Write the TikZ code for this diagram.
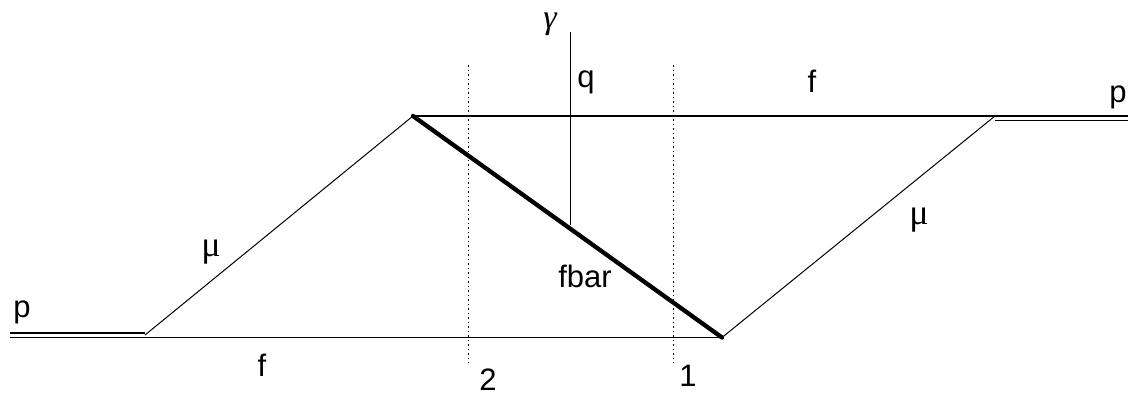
\documentclass[tikz,border=0pt]{standalone}
\usepackage{fontspec}
\setmainfont{Liberation Sans}
\newfontfamily\grk{Liberation Serif}
\begin{document}
\begin{tikzpicture}[x=1pt,y=-1pt,
  ln/.style={line width=1.3pt},
  thin/.style={line width=1pt},
  thickln/.style={line width=4.3pt},
  dot/.style={line width=1pt, dash pattern=on 1.5pt off 3pt},
  lbl/.style={inner sep=0pt, font=\fontsize{31}{31}\selectfont},
  glbl/.style={inner sep=0pt, font=\grk\fontsize{36}{36}\selectfont}]
\useasboundingbox (0,0) rectangle (1128,397);
\coordinate (pl) at (10,337.5);
\coordinate (pltop) at (10,333);
\coordinate (a) at (145,335);
\coordinate (atop) at (145,333);
\coordinate (b) at (413,116);
\coordinate (c) at (722,337.5);
\coordinate (d) at (995,116);
\coordinate (dlow) at (995,120.5);
\coordinate (pr) at (1128,116);
\coordinate (prlow) at (1128,120.5);
\coordinate (gtop) at (570,32);
\coordinate (gbot) at (570,225);
\coordinate (d2t) at (468,65);
\coordinate (d2b) at (468,363);
\coordinate (d1t) at (673,65);
\coordinate (d1b) at (673,363);
% lines
\draw[ln] (pltop) -- (atop);
\draw[ln] (pl) -- (c);
\draw[thin] (a) -- (b);
\draw[ln] (b) -- (pr);
\draw[ln] (dlow) -- (prlow);
\draw[thin] (c) -- (d);
\draw[thickln, line cap=round] (b) -- (c);
\draw[thin] (gtop) -- (gbot);
\draw[dot] (d2t) -- (d2b);
\draw[dot] (d1t) -- (d1b);
% labels
\node[lbl] (lp1) at (22,312) {p};
\node[lbl] (lp2) at (1118,97) {p};
\node[lbl] (lf1) at (262,365) {f};
\node[lbl] (lf2) at (812,81) {f};
\node[lbl] (lq) at (586,82) {q};
\node[lbl] (lfbar) at (585,276) {fbar};
\node[lbl] (l2) at (488,380) {2};
\node[lbl] (l1) at (688,376) {1};
\node[glbl, font=\grk\itshape\fontsize{34}{34}\selectfont] (lg) at (550,24) {γ};
\node[glbl] (lm1) at (211,252) {μ};
\node[glbl] (lm2) at (919,220) {μ};
\end{tikzpicture}
\end{document}
